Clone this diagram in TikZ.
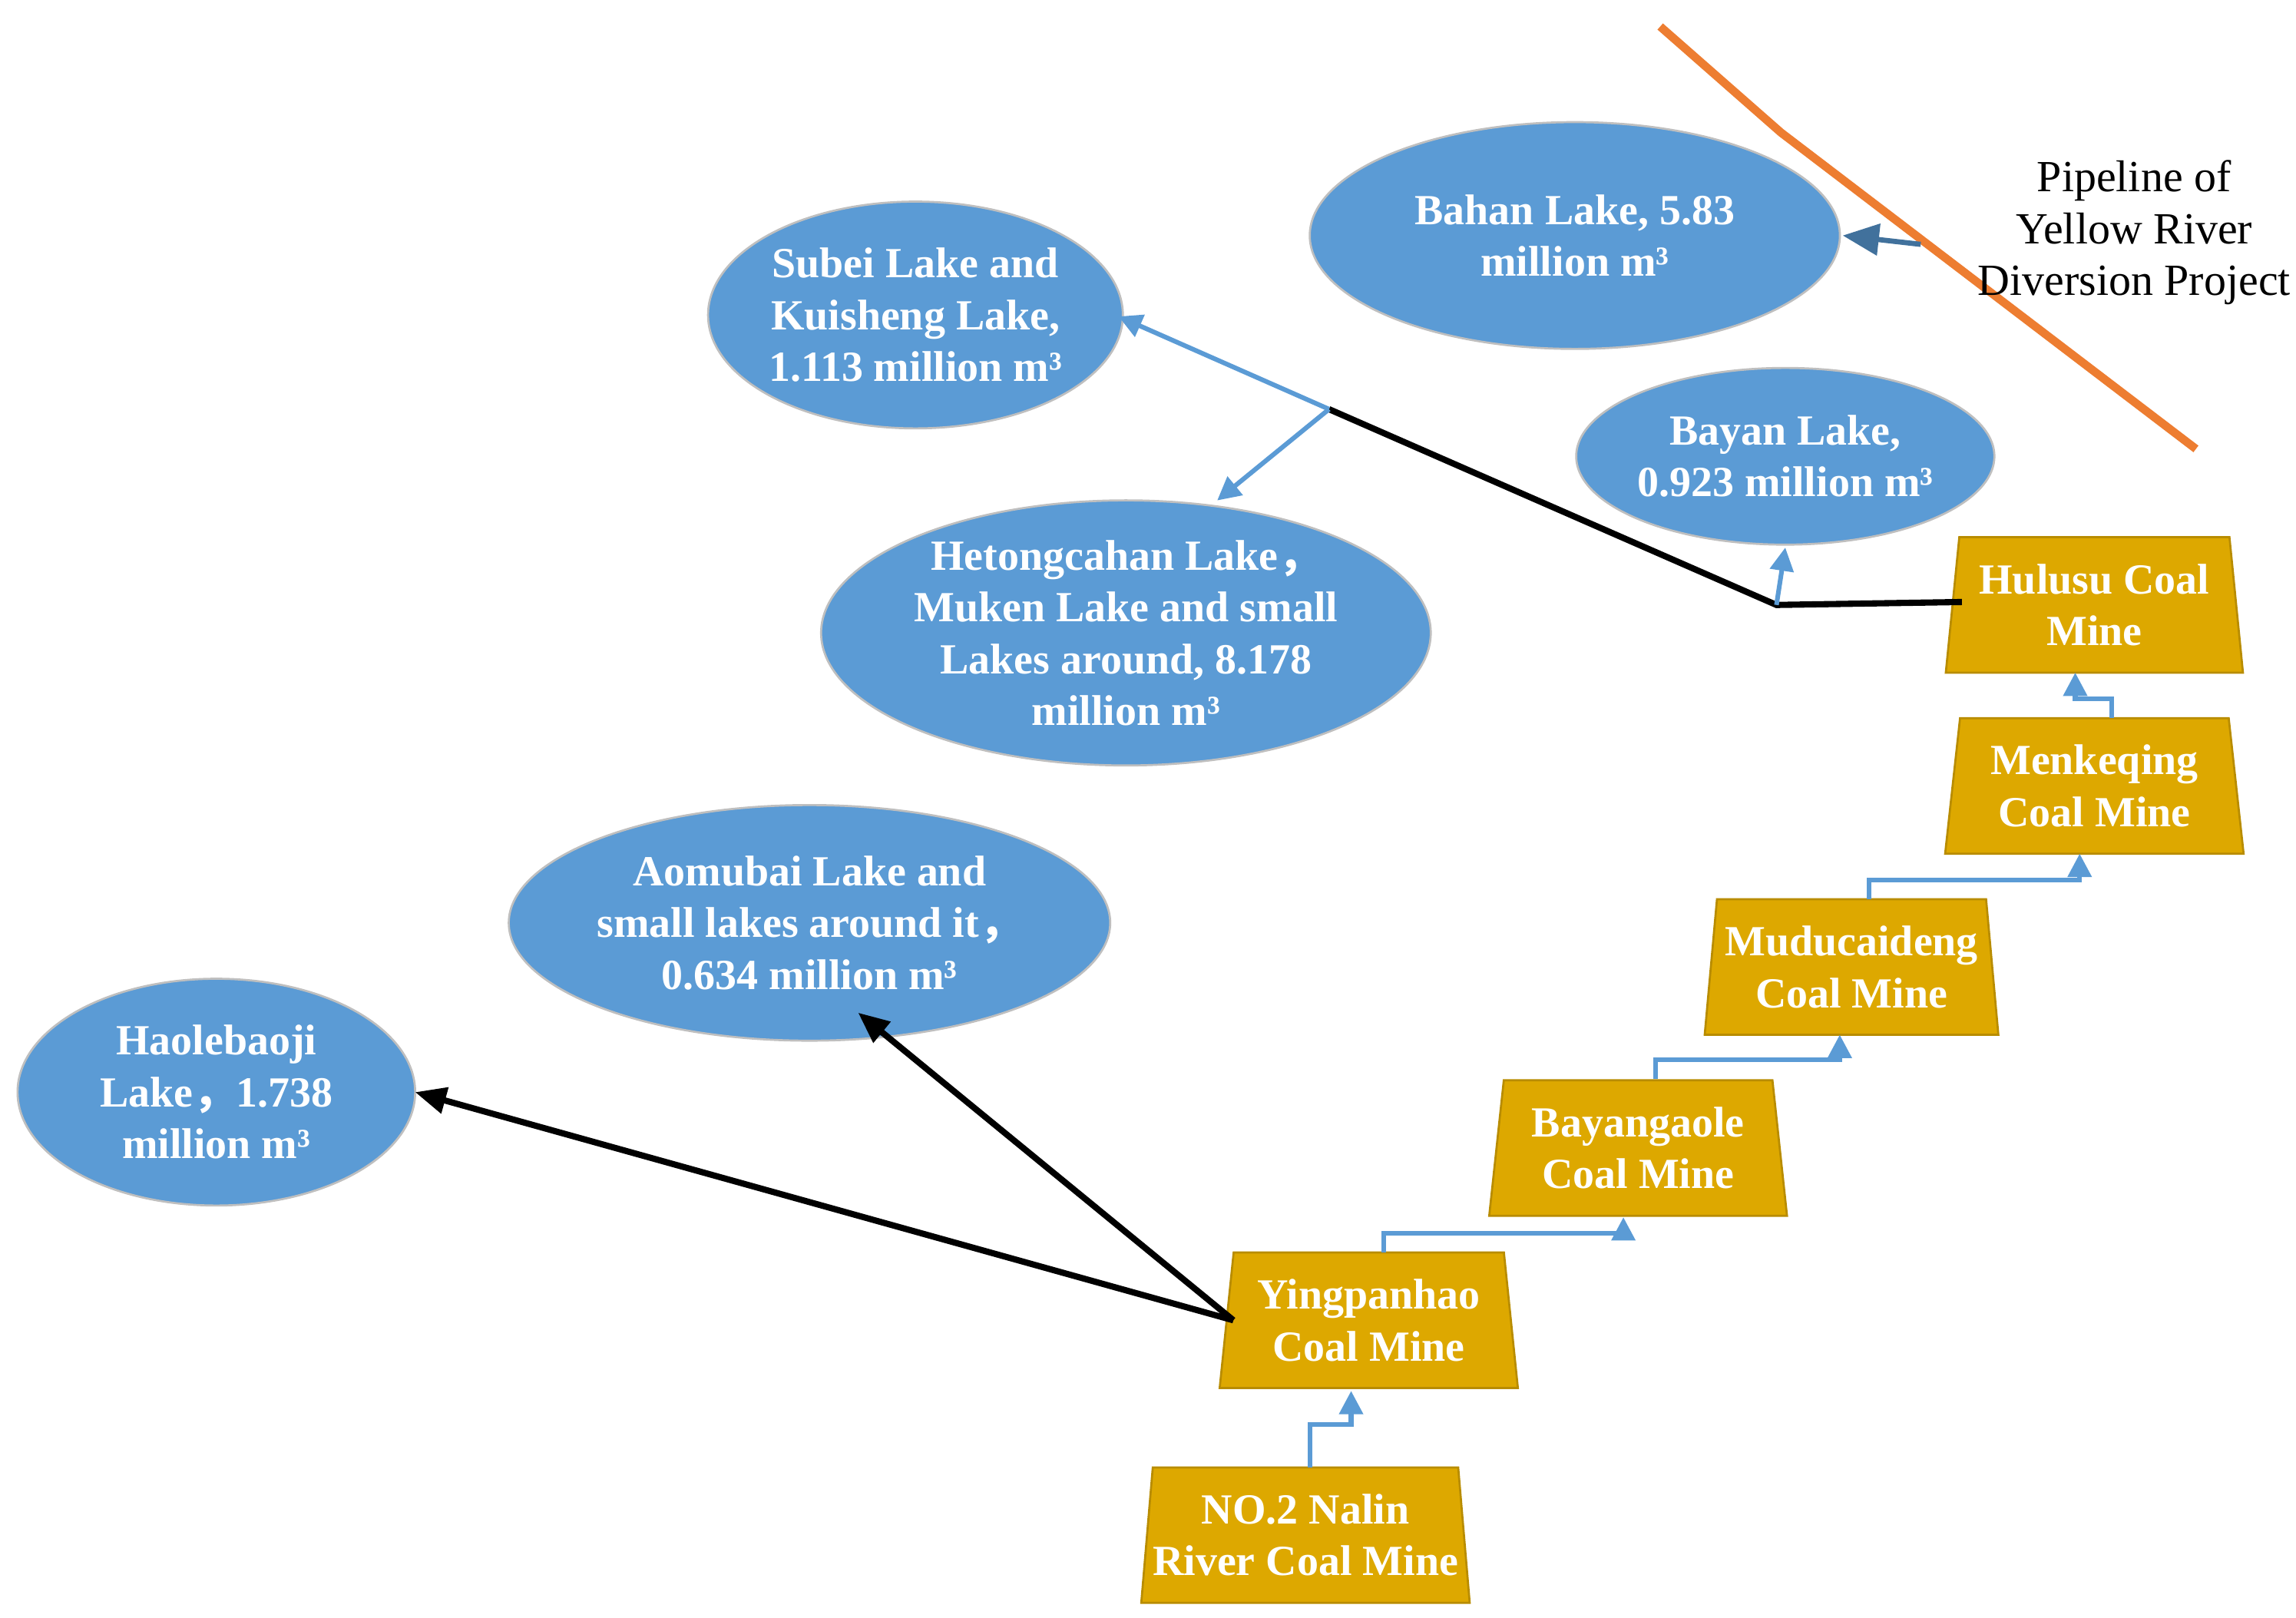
\documentclass[tikz,border=0pt]{standalone}
\usepackage{fontspec}
\setmainfont{Liberation Serif}
\newfontfamily\cjk{Noto Sans CJK SC}
\newcommand{\fwc}{{\cjk ，}}
\usetikzlibrary{shapes.geometric,arrows.meta}
\definecolor{lake}{HTML}{5B9BD5}
\definecolor{mine}{HTML}{DDA800}
\definecolor{mineb}{HTML}{B88C00}
\definecolor{pipe}{HTML}{ED7D31}
\definecolor{darkarr}{HTML}{41719C}
\begin{document}
\begin{tikzpicture}[x=0.01cm,y=-0.01cm,
 lk/.style={ellipse,fill=lake,draw=gray!50,line width=0.4pt,text=white,font=\bfseries\fontsize{8.3}{10}\selectfont,align=center,inner sep=0pt},
 mn/.style={trapezium,trapezium left angle=82,trapezium right angle=82,trapezium stretches=true,fill=mine,draw=mineb,line width=0.4pt,text=white,font=\bfseries\fontsize{8.3}{10}\selectfont,align=center,minimum height=0.92cm,inner sep=0pt},
 bl/.style={draw=lake,line width=0.9pt,-{Triangle[length=4.5pt,width=4.5pt]}},
 bk/.style={draw=black,line width=1.2pt,-{Triangle[length=6pt,width=5pt]}}]
\useasboundingbox (0,0) rectangle (1560,1099);
\node[lk,minimum width=3.6cm,minimum height=1.54cm] (bahan) at (1070,160) {Bahan Lake, 5.83\\million m³};
\node[lk,minimum width=2.7cm,minimum height=1.54cm] (subei) at (622,214) {Subei Lake and\\Kuisheng Lake,\\1.113 million m³};
\node[lk,minimum width=2.76cm,minimum height=1.2cm] (bayan) at (1213,310) {Bayan Lake,\\0.923 million m³};
\node[lk,minimum width=4.14cm,minimum height=1.8cm] (heto) at (765,430) {Hetongcahan Lake\fwc\\Muken Lake and small\\Lakes around, 8.178\\million m³};
\node[lk,minimum width=3.6cm,minimum height=1.6cm] (aomu) at (550,627) {Aomubai Lake and\\small lakes around it\fwc\\0.634 million m³};
\node[lk,minimum width=2.7cm,minimum height=1.54cm] (haole) at (147,742) {Haolebaoji\\Lake\fwc 1.738\\million m³};

\node[mn,minimum width=2.02cm] (hulusu) at (1423,411) {Hulusu Coal\\Mine};
\node[mn,minimum width=2.03cm] (menke) at (1423,534) {Menkeqing\\Coal Mine};
\node[mn,minimum width=2.0cm] (mudu) at (1258,657) {Muducaideng\\Coal Mine};
\node[mn,minimum width=2.03cm] (baya) at (1113,780) {Bayangaole\\Coal Mine};
\node[mn,minimum width=2.03cm] (ying) at (930,897) {Yingpanhao\\Coal Mine};
\node[mn,minimum width=2.15cm] (nalin) at (887,1043) {NO.2 Nalin\\River Coal Mine};

\coordinate (a1) at (890,997); \coordinate (b1) at (918,945);
\draw[bl] (a1) |- (918,968) -- (b1);
\coordinate (a2) at (940,851); \coordinate (b2) at (1103,827);
\draw[bl] (a2) |- (1103,838) -- (b2);
\coordinate (a3) at (1125,733); \coordinate (b3) at (1250,703);
\draw[bl] (a3) |- (1250,720) -- (b3);
\coordinate (a4) at (1270,611); \coordinate (b4) at (1413,580);
\draw[bl] (a4) |- (1413,598) -- (b4);
\coordinate (a5) at (1435,488); \coordinate (b5) at (1410,457);
\draw[bl] (a5) |- (1410,475) -- (b5);

\coordinate (hl) at (1333,409);
\coordinate (j1) at (1207,411);
\coordinate (j2) at (903,278);
\draw[black,line width=1.2pt] (hl) -- (j1) -- (j2);
\draw[bl] (j1) -- (1213,372);
\draw[bl] (j2) -- (760,215);
\draw[bl] (j2) -- (827,340);

\coordinate (yl) at (838,897);
\draw[bk] (yl) -- (282,742);
\draw[bk] (yl) -- (583,688);

\coordinate (p1) at (1128,18); \coordinate (p2) at (1210,90); \coordinate (p3) at (1492,305);
\draw[pipe,line width=1.6pt] (p1) -- (p2) -- (p3);
\coordinate (pa) at (1305,166);
\draw[draw=darkarr,line width=1pt,-{Triangle[length=7pt,width=6pt]}] (pa) -- (1252,160);
\node[align=center,font=\fontsize{8.6}{10}\selectfont] (pl) at (1450,158) {Pipeline of\\Yellow River\\Diversion Project};
\end{tikzpicture}
\end{document}
